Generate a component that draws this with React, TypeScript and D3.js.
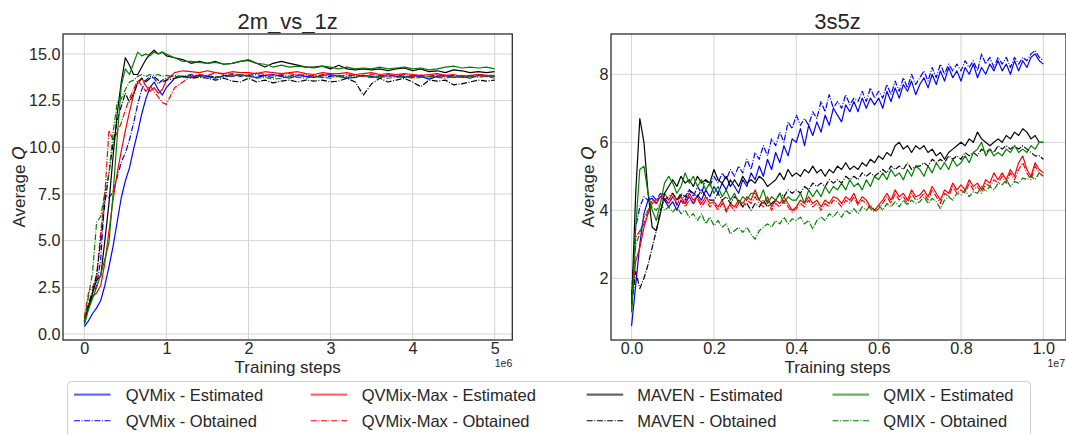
import React, { useEffect, useRef } from "react";
import * as d3 from "d3";

// ---- 2m_vs_1z (x in units of 1e6 steps)
const LEFT_STEPS = [
  0, 0.05, 0.1, 0.15, 0.2, 0.25, 0.3, 0.35, 0.4, 0.45, 0.5, 0.55, 0.6, 0.65, 0.7, 0.75, 0.8, 0.85, 0.9, 0.95, 1.0,
  1.1, 1.2, 1.3, 1.4, 1.5, 1.6, 1.7, 1.8, 1.9, 2.0, 2.1, 2.2, 2.3, 2.4, 2.5, 2.6, 2.7, 2.8, 2.9, 3.0,
  3.1, 3.2, 3.3, 3.4, 3.5, 3.6, 3.7, 3.8, 3.9, 4.0, 4.1, 4.2, 4.3, 4.4, 4.5, 4.6, 4.7, 4.8, 4.9, 5.0,
];

const L_QVMIX_EST = [
  0.4, 0.7, 1.1, 1.4, 1.8, 2.6, 3.6, 4.7, 6.0, 7.3, 8.2, 8.9, 9.9, 10.8, 11.8, 12.6, 13.2, 13.5, 13.1, 12.8, 13.2,
  13.7, 13.8, 13.75, 13.85, 13.8, 13.7, 13.85, 13.8, 13.9, 13.8, 13.75, 13.85, 13.9, 13.8, 13.7, 13.85, 13.8, 13.75, 13.85, 13.9,
  13.8, 13.7, 13.75, 13.85, 13.8, 13.7, 13.9, 13.8, 13.75, 13.85, 13.8, 13.65, 13.8, 13.85, 13.75, 13.8, 13.7, 13.85, 13.8, 13.8,
];
const L_QVMIX_OBT = [
  0.8, 1.5, 2.0, 2.6, 4.0, 7.5, 7.3, 7.6, 8.4, 9.2, 9.7, 10.4, 11.3, 12.3, 13.1, 13.6, 13.8, 13.7, 13.4, 13.6, 13.7,
  13.85, 13.8, 13.9, 13.8, 13.85, 13.75, 13.8, 13.9, 13.8, 13.85, 13.9, 13.8, 13.75, 13.85, 13.8, 13.9, 13.8, 13.85, 13.75, 13.8,
  13.85, 13.8, 13.9, 13.8, 13.75, 13.85, 13.8, 13.9, 13.8, 13.75, 13.85, 13.8, 13.9, 13.8, 13.85, 13.75, 13.8, 13.9, 13.85, 13.8,
];
const L_QVMAX_EST = [
  0.7, 1.5, 2.0, 2.2, 2.6, 3.8, 5.5, 7.2, 8.6, 9.8, 10.9, 11.9, 12.8, 13.5, 13.7, 13.3, 13.0, 13.2, 12.9, 13.1, 13.6,
  14.0, 14.1, 14.05, 14.0, 14.1, 14.0, 13.95, 14.05, 14.0, 14.0, 13.95, 14.05, 14.0, 13.95, 14.0, 14.05, 13.95, 13.9, 14.0, 13.95,
  13.95, 14.0, 13.9, 13.95, 14.0, 13.9, 13.95, 13.9, 13.95, 13.9, 13.85, 13.9, 13.95, 13.85, 13.9, 13.8, 13.85, 13.9, 13.85, 13.85,
];
const L_QVMAX_OBT = [
  0.9, 2.2, 2.5, 3.0, 5.5, 7.5, 10.9, 10.4, 10.8, 11.3, 12.0, 12.6, 13.1, 13.6, 13.3, 13.0, 13.3, 13.0, 12.7, 12.4, 12.3,
  13.2, 13.5, 13.8, 13.9, 13.85, 14.0, 13.9, 13.95, 13.85, 13.9, 14.0, 13.9, 13.85, 13.9, 13.95, 13.85, 13.9, 13.8, 13.9, 13.85,
  13.8, 13.9, 13.85, 13.8, 13.9, 13.85, 13.8, 13.85, 13.9, 13.8, 13.85, 13.75, 13.85, 13.8, 13.75, 13.85, 13.8, 13.75, 13.8, 13.7,
];
const L_MAVEN_EST = [
  0.6, 1.4, 2.2, 2.9, 3.1, 5.0, 7.0, 9.5, 11.8, 13.5, 14.8, 14.4, 13.9, 13.9, 14.3, 14.7, 15.0, 15.2, 15.0, 15.1, 14.9,
  14.8, 14.7, 14.5, 14.6, 14.5, 14.6, 14.45, 14.5, 14.6, 14.65, 14.5, 14.3, 14.5, 14.6, 14.5, 14.4, 14.3, 14.3, 14.35, 14.2,
  14.4, 14.2, 14.15, 14.2, 14.15, 14.2, 14.1, 14.2, 14.25, 14.1, 14.2, 14.05, 14.1, 14.0, 14.15, 14.1, 14.0, 14.05, 14.0, 14.05,
];
const L_MAVEN_OBT = [
  0.7, 1.6, 2.3, 3.2, 5.0, 7.0, 8.6, 10.2, 11.4, 12.2, 12.9, 12.4, 12.9, 13.4, 13.7, 13.5, 13.7, 13.8, 13.6, 13.5, 13.6,
  13.7, 13.8, 13.7, 13.75, 13.7, 13.6, 13.7, 13.55, 13.5, 13.7, 13.5, 13.6, 13.45, 13.55, 13.6, 13.5, 13.6, 13.55, 13.6, 13.5,
  13.55, 13.7, 13.5, 12.8, 13.4, 13.7, 13.5, 13.6, 13.7, 13.5, 13.25, 13.6, 13.55, 13.6, 13.35, 13.4, 13.5, 13.6, 13.55, 13.6,
];
const L_QMIX_EST = [
  0.5, 1.3, 1.9, 2.5, 3.2, 4.0, 4.9, 7.5, 10.5, 13.3, 14.2, 13.9, 14.5, 15.1, 14.9, 15.0, 14.9, 15.1, 15.0, 15.1, 15.0,
  14.8, 14.6, 14.6, 14.55, 14.5, 14.55, 14.45, 14.5, 14.6, 14.7, 14.5, 14.45, 14.3, 14.4, 14.3, 14.35, 14.3, 14.25, 14.35, 14.3,
  14.2, 14.3, 14.2, 14.25, 14.2, 14.3, 14.2, 14.25, 14.3, 14.2, 14.25, 14.15, 14.2, 14.3, 14.35, 14.25, 14.3, 14.25, 14.3, 14.2,
];
const L_QMIX_OBT = [
  0.7, 2.0, 3.3, 6.0, 6.3, 7.6, 8.6, 10.8, 12.4, 12.6, 13.1, 13.5, 13.6, 13.8, 13.9, 13.8, 13.9, 13.85, 13.9, 13.8, 13.85,
  13.8, 13.75, 13.85, 13.8, 13.7, 13.8, 13.75, 13.85, 13.9, 13.8, 13.7, 13.75, 13.65, 13.7, 13.8, 13.75, 13.7, 13.8, 13.75, 13.7,
  13.8, 13.75, 13.8, 13.85, 13.75, 13.8, 13.7, 13.75, 13.8, 13.7, 13.75, 13.8, 13.75, 13.7, 13.8, 13.75, 13.8, 13.85, 13.8, 13.8,
];

// ---- 3s5z (x in units of 1e7 steps, logged every 0.01)
const RIGHT_STEPS = d3.range(101).map((i) => i / 100);

const R_QVMIX_EST = [
  0.6, 1.8, 3.0, 3.9, 4.3, 4.35, 4.2, 4.4, 4.3, 4.1,
  4.25, 4.0, 4.3, 4.2, 4.4, 4.2, 4.45, 4.3, 4.6, 4.4,
  4.7, 4.5, 4.8, 4.6, 4.9, 4.7, 4.5, 4.9, 4.7, 5.1,
  4.9, 5.3, 5.0, 5.5, 5.2, 5.7, 5.4, 5.9, 5.6, 6.1,
  6.0, 6.4, 5.9, 6.5, 6.2, 6.6, 6.3, 6.8, 6.5, 7.0,
  6.8, 6.6, 7.1, 6.9, 7.2, 6.9, 7.3, 7.0, 7.3, 7.1,
  7.3, 7.0, 7.5, 7.2, 7.6, 7.3, 7.7, 7.5, 7.8, 7.4,
  7.7, 7.9, 7.6, 8.0, 7.7, 8.1, 7.8, 8.2, 7.9, 8.1,
  7.8, 8.2, 8.0, 8.3, 7.9, 8.2, 8.0, 8.3, 8.1, 8.4,
  8.1, 8.3, 8.0, 8.4, 8.1, 8.4, 8.2, 8.5, 8.6, 8.4, 8.3,
];
const R_QVMIX_OBT = [
  1.5, 3.5, 4.1, 4.4, 4.3, 4.45, 4.3, 4.5, 4.35, 4.2,
  4.4, 4.15, 4.45, 4.3, 4.6, 4.4, 4.7, 4.5, 4.9, 4.7,
  5.0, 4.8, 5.1, 4.9, 5.2, 5.0, 5.3, 5.1, 5.5, 5.2,
  5.7, 5.5, 5.9, 5.6, 6.1, 5.9, 6.3, 6.0, 6.6, 6.4,
  6.8, 6.5, 6.7, 6.5, 6.9, 6.7, 7.2, 6.9, 7.4, 7.0,
  7.2, 7.0, 7.4, 7.1, 7.3, 7.2, 7.5, 7.2, 7.6, 7.3,
  7.5, 7.3, 7.7, 7.4, 7.8, 7.5, 7.9, 7.6, 8.0, 7.7,
  7.9, 8.1, 7.8, 8.2, 7.9, 8.3, 8.0, 8.3, 8.1, 8.3,
  8.1, 8.4, 8.2, 8.4, 8.1, 8.6, 8.3, 8.5, 8.2, 8.5,
  8.3, 8.5, 8.2, 8.5, 8.3, 8.5, 8.4, 8.6, 8.7, 8.5, 8.4,
];
const R_QVMAX_EST = [
  1.3, 2.5, 2.9, 3.5, 3.9, 4.2, 4.3, 4.4, 4.5, 4.3,
  4.5, 4.3, 4.4, 4.2, 4.5, 4.3, 4.4, 4.2, 4.4, 4.2,
  4.25, 4.1, 4.3, 4.0, 4.2, 4.1, 4.3, 4.2, 4.4, 4.3,
  4.6, 4.3, 4.2, 4.4, 4.1, 4.3, 4.2, 4.4, 4.2, 4.0,
  4.1, 4.3, 4.2, 4.4, 4.2, 4.3, 4.1, 4.3, 4.2, 4.4,
  4.35, 4.2, 4.4, 4.3, 4.5, 4.2, 4.4, 4.3, 4.1, 4.0,
  4.15, 4.3, 4.5, 4.3, 4.6, 4.4, 4.5, 4.3, 4.6, 4.4,
  4.45, 4.6, 4.4, 4.7, 4.5, 4.3, 4.6, 4.5, 4.8, 4.6,
  4.75, 4.6, 4.9, 4.7, 4.8, 4.6, 4.9, 4.8, 5.1, 4.9,
  5.1, 4.9, 5.2, 5.0, 5.4, 5.6, 5.2, 5.0, 5.4, 5.2, 5.1,
];
const R_QVMAX_OBT = [
  1.2, 3.2, 3.4, 3.6, 4.0, 4.3, 4.2, 4.4, 4.3, 4.2,
  4.4, 4.2, 4.3, 4.1, 4.3, 4.2, 4.35, 4.1, 4.3, 4.1,
  4.2, 4.0, 4.2, 3.95, 4.15, 4.0, 4.2, 4.1, 4.3, 4.2,
  4.4, 4.2, 4.1, 4.3, 4.0, 4.2, 4.1, 4.3, 4.1, 3.95,
  4.05, 4.2, 4.1, 4.3, 4.1, 4.2, 4.0, 4.2, 4.1, 4.3,
  4.25, 4.1, 4.3, 4.2, 4.4, 4.15, 4.3, 4.2, 4.05, 3.95,
  4.05, 4.2, 4.4, 4.2, 4.5, 4.3, 4.4, 4.2, 4.5, 4.3,
  4.35, 4.5, 4.3, 4.6, 4.4, 4.2, 4.5, 4.4, 4.7, 4.5,
  4.6, 4.5, 4.8, 4.6, 4.7, 4.5, 4.8, 4.7, 4.9, 4.8,
  5.0, 4.8, 5.1, 4.9, 5.2, 5.4, 5.1, 4.9, 5.3, 5.1, 5.0,
];
const R_MAVEN_EST = [
  1.2, 4.5, 6.7, 6.0, 4.5, 3.5, 3.4, 3.9, 4.5, 4.7,
  4.9, 4.7, 5.0, 4.8, 4.9, 4.7, 5.0, 4.8, 4.9, 4.8,
  5.2, 4.9, 4.8, 5.0, 4.7, 4.9, 4.7, 5.0, 4.8, 4.9,
  4.8, 5.0, 4.9, 4.7, 4.8, 4.9, 5.1, 4.9, 5.2, 5.0,
  5.1, 5.0, 5.2, 5.1, 5.3, 5.1, 5.2, 5.0, 5.2, 5.1,
  5.3, 5.2, 5.4, 5.2, 5.3, 5.2, 5.4, 5.3, 5.5, 5.4,
  5.6, 5.5, 5.7, 5.6, 5.9, 6.0, 5.8, 5.9, 5.7, 5.9,
  5.8, 5.9, 5.7, 5.8, 5.6, 5.7, 5.5, 5.7, 5.8, 5.9,
  6.0, 5.9, 6.1, 6.0, 6.3, 6.1, 6.0, 5.9, 6.0, 6.1,
  6.0, 6.2, 6.1, 6.3, 6.2, 6.4, 6.3, 6.1, 6.2, 6.0, 6.0,
];
const R_MAVEN_OBT = [
  1.2, 2.2, 1.7, 2.0, 2.4, 2.9, 3.4, 4.0, 4.3, 4.4,
  4.5, 4.3, 4.5, 4.4, 4.6, 4.5, 4.4, 4.6, 4.4, 4.3,
  4.3, 4.5, 4.3, 4.4, 4.2, 4.4, 4.3, 4.1, 4.2, 4.0,
  4.2, 4.1, 4.3, 4.1, 4.2, 4.3, 4.5, 4.4, 4.6, 4.5,
  4.6, 4.5, 4.7, 4.6, 4.8, 4.7, 4.8, 4.7, 4.9, 4.8,
  4.9, 4.8, 5.0, 4.9, 5.0, 4.9, 5.1, 5.0, 5.1, 5.0,
  5.1, 5.2, 5.1, 5.3, 5.2, 5.3, 5.2, 5.4, 5.2, 5.3,
  5.3, 5.4, 5.3, 5.5, 5.4, 5.5, 5.4, 5.6, 5.5, 5.6,
  5.5, 5.7, 5.6, 5.7, 5.6, 5.8, 5.7, 5.8, 5.7, 5.9,
  5.8, 5.9, 5.8, 5.9, 5.8, 5.9, 5.8, 5.7, 5.6, 5.6, 5.5,
];
const R_QMIX_EST = [
  1.0, 3.5, 5.2, 5.3, 4.5, 4.0, 3.7, 4.2, 4.8, 5.0,
  4.8, 4.5, 4.7, 5.1, 4.8, 5.0, 4.7, 4.9, 4.6, 4.8,
  4.5, 4.7, 4.4, 4.6, 4.3, 4.5, 4.2, 4.4, 4.3, 4.5,
  4.5, 4.3, 4.6, 4.2, 4.4, 4.3, 4.5, 4.2, 4.4, 4.3,
  4.3, 4.5, 4.2, 4.6, 4.4, 4.6, 4.4, 4.7, 4.5, 4.7,
  4.6, 4.8, 4.6, 4.9, 4.7, 4.8, 4.6, 4.9, 4.7, 5.0,
  4.9, 5.1, 4.9, 5.2, 5.0, 5.1, 4.9, 5.2, 5.0, 5.3,
  5.2, 5.0, 5.3, 5.1, 5.4, 5.2, 5.4, 5.2, 5.5, 5.3,
  5.4, 5.6, 5.4, 5.7, 5.8, 6.0, 5.6, 5.8, 5.6, 5.7,
  5.6, 5.8, 5.7, 5.9, 5.7, 5.8, 5.7, 5.9, 5.8, 6.0, 6.0,
];
const R_QMIX_OBT = [
  1.0, 3.0, 3.3, 3.8, 4.0, 4.1, 4.0, 4.2, 4.0, 4.1,
  3.95, 4.1, 3.9, 4.0, 3.8, 3.9, 3.7, 3.9, 3.6, 3.8,
  3.55, 3.7, 3.5, 3.6, 3.3, 3.4, 3.5, 3.35, 3.5, 3.3,
  3.15, 3.4, 3.5, 3.6, 3.5, 3.7, 3.6, 3.8, 3.6, 3.75,
  3.7, 3.8, 3.6, 3.7, 3.45, 3.7, 3.8, 3.7, 3.9, 3.8,
  3.95, 3.8, 4.0, 3.9, 4.05, 3.9, 4.1, 4.0, 4.15, 4.0,
  4.15, 4.0, 4.2, 4.1, 4.25, 4.1, 4.3, 4.15, 4.3, 4.2,
  4.25, 4.4, 4.2, 4.35, 4.25, 4.05, 4.3, 4.4, 4.3, 4.5,
  4.45, 4.6, 4.4, 4.55, 4.5, 4.7, 4.55, 4.7, 4.6, 4.8,
  4.75, 4.9, 4.7, 4.85, 4.8, 4.95, 4.9, 5.0, 4.9, 5.1, 5.0,
];

const LABELS = [
  "QVMix - Estimated", "QVMix - Obtained",
  "QVMix-Max - Estimated", "QVMix-Max - Obtained",
  "MAVEN - Estimated", "MAVEN - Obtained",
  "QMIX - Estimated", "QMIX - Obtained",
];
const COLORS = ["blue", "blue", "red", "red", "black", "black", "green", "green"];

const LEFT_SERIES = [L_QVMIX_EST, L_QVMIX_OBT, L_QVMAX_EST, L_QVMAX_OBT, L_MAVEN_EST, L_MAVEN_OBT, L_QMIX_EST, L_QMIX_OBT];
const RIGHT_SERIES = [R_QVMIX_EST, R_QVMIX_OBT, R_QVMAX_EST, R_QVMAX_OBT, R_MAVEN_EST, R_MAVEN_OBT, R_QMIX_EST, R_QMIX_OBT];

const LEFT_X_TICKS = [0, 1, 2, 3, 4, 5];
const LEFT_Y_TICKS = [0, 2.5, 5, 7.5, 10, 12.5, 15];
const RIGHT_X_TICKS = [0, 0.2, 0.4, 0.6, 0.8, 1.0];
const RIGHT_Y_TICKS = [2, 4, 6, 8];

const FONT = "'Liberation Sans', Arial, sans-serif";
const INK = "#262626";
const DASHDOT = "6,1.6,1,1.6";

const App = () => {
  const ref = useRef<SVGSVGElement>(null);

  useEffect(() => {
    const width = 1066;
    const height = 434;
    const svg = d3.select(ref.current).attr("width", width).attr("height", height);
    svg.selectAll("*").remove();

    const panels = [
      {
        id: "p1",
        title: "2m_vs_1z",
        steps: LEFT_STEPS,
        series: LEFT_SERIES,
        x: d3.scaleLinear().domain([-0.26, 5.215]).range([63, 512.3]),
        y: d3.scaleLinear().domain([-0.32, 16.07]).range([340, 34]),
        xTicks: LEFT_X_TICKS,
        yTicks: LEFT_Y_TICKS,
        xFmt: d3.format("d"),
        yFmt: d3.format(".1f"),
        offset: "1e6",
        yLabelX: 25,
      },
      {
        id: "p2",
        title: "3s5z",
        steps: RIGHT_STEPS,
        series: RIGHT_SERIES,
        x: d3.scaleLinear().domain([-0.05, 1.055]).range([611, 1066]),
        y: d3.scaleLinear().domain([0.185, 9.185]).range([340, 34]),
        xTicks: RIGHT_X_TICKS,
        yTicks: RIGHT_Y_TICKS,
        xFmt: d3.format(".1f"),
        yFmt: d3.format("d"),
        offset: "1e7",
        yLabelX: 594,
      },
    ];

    panels.forEach((p) => {
      const [x0, x1] = p.x.range();
      const [yb, yt] = p.y.range();
      const g = svg.append("g");

      g.append("defs")
        .append("clipPath")
        .attr("id", `clip-${p.id}`)
        .append("rect")
        .attr("x", x0)
        .attr("y", yt)
        .attr("width", x1 - x0)
        .attr("height", yb - yt);

      // grid
      g.append("g")
        .selectAll("line")
        .data(p.xTicks)
        .join("line")
        .attr("x1", (d) => p.x(d))
        .attr("x2", (d) => p.x(d))
        .attr("y1", yt)
        .attr("y2", yb)
        .attr("stroke", "#d4d4d4")
        .attr("stroke-width", 1);
      g.append("g")
        .selectAll("line")
        .data(p.yTicks)
        .join("line")
        .attr("x1", x0)
        .attr("x2", x1)
        .attr("y1", (d) => p.y(d))
        .attr("y2", (d) => p.y(d))
        .attr("stroke", "#d4d4d4")
        .attr("stroke-width", 1);

      // lines
      const lines = g.append("g").attr("clip-path", `url(#clip-${p.id})`);
      p.series.forEach((vals, i) => {
        const line = d3
          .line<number>()
          .x((_, k) => p.x(p.steps[k]))
          .y((d) => p.y(d));
        lines
          .append("path")
          .attr("d", line(vals))
          .attr("fill", "none")
          .attr("stroke", COLORS[i])
          .attr("stroke-width", 1.2)
          .attr("stroke-linejoin", "round")
          .attr("stroke-dasharray", i % 2 === 1 ? DASHDOT : null);
      });

      // frame
      g.append("rect")
        .attr("x", x0)
        .attr("y", yt)
        .attr("width", x1 - x0)
        .attr("height", yb - yt)
        .attr("fill", "none")
        .attr("stroke", INK)
        .attr("stroke-width", 1.25);

      // axes
      const xAxis = g
        .append("g")
        .attr("transform", `translate(0,${yb})`)
        .call(d3.axisBottom(p.x).tickValues(p.xTicks).tickFormat(p.xFmt as any).tickSize(0).tickPadding(2.5));
      const yAxis = g
        .append("g")
        .attr("transform", `translate(${x0},0)`)
        .call(d3.axisLeft(p.y).tickValues(p.yTicks).tickFormat(p.yFmt as any).tickSize(0).tickPadding(2.5));
      [xAxis, yAxis].forEach((a) => {
        a.select(".domain").remove();
        a.selectAll("text").attr("font-family", FONT).attr("font-size", 16.2).attr("fill", INK);
      });

      // title and labels
      const cx = (x0 + Math.min(x1, 1064)) / 2;
      g.append("text")
        .attr("x", cx)
        .attr("y", 29)
        .attr("text-anchor", "middle")
        .attr("font-family", FONT)
        .attr("font-size", 22)
        .attr("fill", INK)
        .text(p.title);
      g.append("text")
        .attr("x", cx)
        .attr("y", 373)
        .attr("text-anchor", "middle")
        .attr("font-family", FONT)
        .attr("font-size", 17)
        .attr("fill", INK)
        .text("Training steps");
      g.append("text")
        .attr("x", Math.min(x1, 1065))
        .attr("y", 367)
        .attr("text-anchor", "end")
        .attr("font-family", FONT)
        .attr("font-size", 10.5)
        .attr("fill", INK)
        .text(p.offset);
      const yl = g
        .append("text")
        .attr("transform", `translate(${p.yLabelX},${(yt + yb) / 2}) rotate(-90)`)
        .attr("text-anchor", "middle")
        .attr("font-family", FONT)
        .attr("font-size", 17)
        .attr("fill", INK);
      yl.append("tspan").text("Average ");
      yl.append("tspan").attr("font-family", "'DejaVu Sans', sans-serif").attr("font-style", "italic").text("Q");
    });

    // legend
    const legend = svg.append("g");
    legend
      .append("rect")
      .attr("x", 67.5)
      .attr("y", 381.5)
      .attr("width", 963)
      .attr("height", 70)
      .attr("rx", 4)
      .attr("fill", "white")
      .attr("stroke", "#d0d0d0")
      .attr("stroke-width", 1);
    const colLine = [74, 310.7, 586.7, 832.5];
    const colText = [125.7, 361.7, 637.3, 883.3];
    const rowY = [394.7, 420.7];
    LABELS.forEach((label, i) => {
      const c = Math.floor(i / 2);
      const r = i % 2;
      const est = r === 0;
      legend
        .append("line")
        .attr("x1", colLine[c])
        .attr("x2", colLine[c] + 36.5)
        .attr("y1", rowY[r])
        .attr("y2", rowY[r])
        .attr("stroke", COLORS[i])
        .attr("stroke-width", est ? 2.2 : 1.1)
        .attr("stroke-opacity", est ? 0.6 : 1)
        .attr("stroke-dasharray", est ? null : DASHDOT);
      legend
        .append("text")
        .attr("x", colText[c])
        .attr("y", rowY[r])
        .attr("dy", "0.36em")
        .attr("font-family", FONT)
        .attr("font-size", 16.5)
        .attr("fill", INK)
        .text(label);
    });
  }, []);

  return <svg ref={ref} style={{ position: "absolute", left: 0, top: 0, display: "block" }} />;
};

export default App;
